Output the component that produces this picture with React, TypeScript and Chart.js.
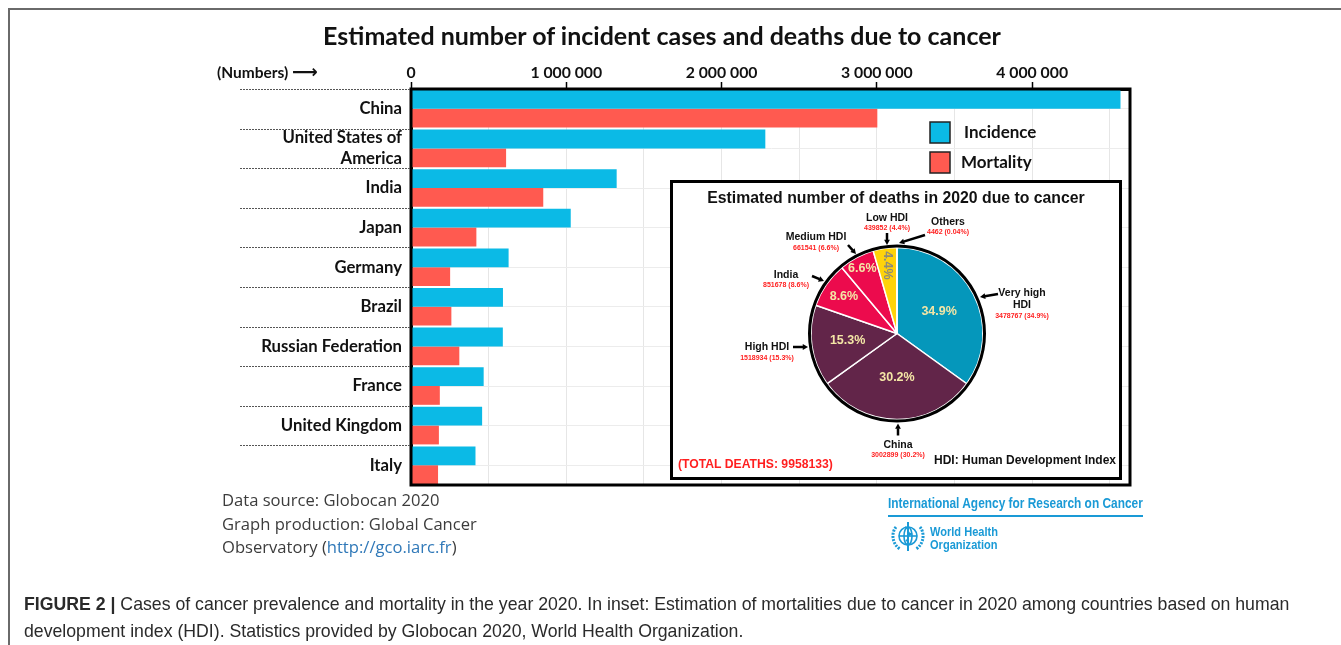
import React, { useEffect, useRef } from 'react';
import { Chart, registerables } from 'chart.js';

Chart.register(...registerables);

// ---------- DATA ----------
const countries = [
  'China',
  'United States of America',
  'India',
  'Japan',
  'Germany',
  'Brazil',
  'Russian Federation',
  'France',
  'United Kingdom',
  'Italy',
];
const incidence = [4568754, 2281658, 1324413, 1028658, 628519, 592212, 591371, 467965, 457960, 415269];
const mortality = [3002899, 612390, 851678, 420965, 251995, 259949, 311137, 185621, 179648, 174159];
const seriesNames = ['Incidence', 'Mortality'];
// x grid positions (labels only on whole millions)
const xGridValues = [0, 500000, 1000000, 1500000, 2000000, 2500000, 3000000, 3500000, 4000000, 4500000];
const xLabelledValues = [0, 1000000, 2000000, 3000000, 4000000];

const hdiGroups = ['Very high HDI', 'China', 'High HDI', 'India', 'Medium HDI', 'Low HDI', 'Others'];
const hdiDeaths = [3478767, 3002899, 1518934, 851678, 661541, 439852, 4462];
const totalDeathsLabel = '(TOTAL DEATHS: 9958133)';

// ---------- STYLE ----------
const INC = '#0BBAE6';
const MORT = '#FF5A50';
const pieColors = ['#0597BB', '#622549', '#622549', '#EC0B4D', '#EC0B4D', '#FFD30A', '#FFD30A'];

const fmtSpace = (v: number) => String(Math.round(v)).replace(/\B(?=(\d{3})+(?!\d))/g, ' ');
const isLabelled = (v: number) => xLabelledValues.some((t) => Math.abs(t - v) < 1);

const separatorPlugin = {
  id: 'separators',
  afterDraw(chart: any) {
    const { ctx, chartArea } = chart;
    const n = chart.data.labels.length;
    const h = (chartArea.bottom - chartArea.top) / n;
    ctx.save();
    ctx.strokeStyle = '#555';
    ctx.lineWidth = 1;
    ctx.setLineDash([2, 1]);
    for (let i = 0; i < n; i++) {
      const y = Math.round(chartArea.top + i * h) + 0.5;
      ctx.beginPath();
      ctx.moveTo(240, y);
      ctx.lineTo(chartArea.left, y);
      ctx.stroke();
    }
    ctx.restore();
  },
};

const framePlugin = {
  id: 'frame',
  afterDatasetsDraw(chart: any) {
    const { ctx, chartArea } = chart;
    ctx.save();
    ctx.strokeStyle = '#000';
    ctx.lineWidth = 3;
    ctx.strokeRect(chartArea.left, chartArea.top, chartArea.right - chartArea.left, chartArea.bottom - chartArea.top);
    ctx.restore();
  },
};

const legendPlugin = {
  id: 'customLegend',
  afterDraw(chart: any) {
    const { ctx, chartArea } = chart;
    ctx.save();
    chart.data.datasets.forEach((ds: any, i: number) => {
      const x = chartArea.left + 519;
      const y = chartArea.top + 33 + i * 30;
      ctx.fillStyle = ds.backgroundColor;
      ctx.fillRect(x, y, 20, 21);
      ctx.strokeStyle = '#222';
      ctx.lineWidth = 1.5;
      ctx.strokeRect(x, y, 20, 21);
      ctx.fillStyle = '#111';
      ctx.font = 'bold 17px Lato';
      ctx.textBaseline = 'middle';
      ctx.textAlign = 'left';
      ctx.fillText(ds.label, x + 34 - i * 3, y + 11);
    });
    ctx.restore();
  },
};

function BarChart() {
  const ref = useRef<HTMLCanvasElement>(null);
  useEffect(() => {
    const chart = new Chart(ref.current as HTMLCanvasElement, {
      type: 'bar',
      data: {
        labels: countries,
        datasets: [
          { label: seriesNames[0], data: incidence, backgroundColor: INC, borderWidth: 0 },
          { label: seriesNames[1], data: mortality, backgroundColor: MORT, borderWidth: 0 },
        ],
      },
      options: {
        indexAxis: 'y',
        responsive: false,
        animation: false,
        devicePixelRatio: 1,
        layout: { padding: { left: 0, top: 0, right: 211, bottom: 160 } },
        datasets: { bar: { categoryPercentage: 0.95, barPercentage: 1 } } as any,
        plugins: { legend: { display: false }, tooltip: { enabled: false } },
        scales: {
          x: {
            position: 'top',
            min: 0,
            max: 4630000,
            afterFit: (s: any) => { s.height = 89; },
            afterBuildTicks: (s: any) => { s.ticks = xGridValues.map((v) => ({ value: v })); },
            ticks: {
              autoSkip: false,
              maxRotation: 0,
              padding: 0,
              color: '#111',
              font: { family: 'Lato', weight: 'bold', size: 15.8 },
              callback: (v: any) => (isLabelled(Number(v)) ? fmtSpace(Number(v)) : ''),
            },
            grid: {
              color: (c: any) => (c.tick && Math.round(c.tick.value) === 0 ? 'rgba(0,0,0,0)' : '#e6e6e6'),
              tickColor: (c: any) => (c.tick && isLabelled(c.tick.value) ? '#000' : 'rgba(0,0,0,0)'),
              tickLength: 7,
              tickWidth: 1.5,
            },
            border: { display: true, color: '#000', width: 3 },
          } as any,
          y: {
            afterFit: (s: any) => { s.width = 411; },
            ticks: {
              autoSkip: false,
              padding: 9,
              color: '#111',
              font: { family: 'Lato', weight: 'bold', size: 16.7, lineHeight: 1.25 },
              callback: function (this: any, v: any) {
                const l = String(this.getLabelForValue(v));
                return l === 'United States of America' ? ['United States of', 'America'] : l;
              },
            },
            grid: { offset: false, color: '#ececec', drawTicks: false },
            border: { display: true, color: '#000', width: 3 },
          } as any,
        },
      },
      plugins: [separatorPlugin, framePlugin, legendPlugin],
    });
    return () => chart.destroy();
  }, []);
  return <canvas ref={ref} width={1341} height={645} style={{ position: 'absolute', left: 0, top: 0 }} />;
}

// label placement (offsets from pie centre) — layout only
const extLayout = [
  { name: ['Very high', 'HDI'], nx: 125, ny: -40.5, vy: -17.5, a: [101, -39.5, 83, -36.5] },
  { name: ['China'], nx: 1, ny: 111.5, vy: 121.5, a: [1, 102, 1, 90] },
  { name: ['High HDI'], nx: -130, ny: 13.5, vy: 24.5, a: [-104, 13.5, -89, 13.5] },
  { name: ['India'], nx: -111, ny: -58.5, vy: -48.5, a: [-85, -57.5, -73, -52.5] },
  { name: ['Medium HDI'], nx: -81, ny: -96.5, vy: -85.5, a: [-49, -88.5, -41, -79.5] },
  { name: ['Low HDI'], nx: -10, ny: -115.5, vy: -105.5, a: [-10, -100.5, -10, -88.5] },
  { name: ['Others'], nx: 51, ny: -111.5, vy: -101.5, a: [28, -98.5, 2, -90.5] },
];
const innerRadiusFactor = [0.55, 0.51, 0.58, 0.75, 0.86, 0.8, 0];

function drawArrow(ctx: CanvasRenderingContext2D, x1: number, y1: number, x2: number, y2: number) {
  const ang = Math.atan2(y2 - y1, x2 - x1);
  const hl = 6;
  ctx.beginPath();
  ctx.moveTo(x1, y1);
  ctx.lineTo(x2 - Math.cos(ang) * hl * 0.8, y2 - Math.sin(ang) * hl * 0.8);
  ctx.lineWidth = 2.5;
  ctx.strokeStyle = '#000';
  ctx.stroke();
  ctx.beginPath();
  ctx.moveTo(x2, y2);
  ctx.lineTo(x2 - Math.cos(ang - 0.5) * hl, y2 - Math.sin(ang - 0.5) * hl);
  ctx.lineTo(x2 - Math.cos(ang + 0.5) * hl, y2 - Math.sin(ang + 0.5) * hl);
  ctx.closePath();
  ctx.fillStyle = '#000';
  ctx.fill();
}

const pieLabelPlugin = {
  id: 'pieLabels',
  afterDatasetsDraw(chart: any) {
    const { ctx } = chart;
    const meta = chart.getDatasetMeta(0);
    const data: number[] = chart.data.datasets[0].data;
    const labels: string[] = chart.data.labels;
    const total = data.reduce((a, b) => a + b, 0);
    const a0 = meta.data[0];
    const cx = a0.x, cy = a0.y, R = a0.outerRadius;
    ctx.save();
    // outer ring
    ctx.beginPath();
    ctx.arc(cx, cy, R + 1.5, 0, Math.PI * 2);
    ctx.lineWidth = 3;
    ctx.strokeStyle = '#000';
    ctx.stroke();
    // inner percentages
    meta.data.forEach((arc: any, i: number) => {
      const pct = (data[i] / total) * 100;
      if (pct < 1) return;
      const mid = (arc.startAngle + arc.endAngle) / 2;
      const r = R * innerRadiusFactor[i];
      const x = cx + Math.cos(mid) * r;
      const y = cy + Math.sin(mid) * r;
      ctx.save();
      ctx.translate(x, y);
      ctx.font = 'bold 12.5px "Liberation Sans", Arial';
      ctx.textAlign = 'center';
      ctx.textBaseline = 'middle';
      if (pct < 5) {
        ctx.rotate(Math.PI / 2);
        ctx.fillStyle = '#8c8a7a';
      } else {
        ctx.fillStyle = '#F4E6A6';
      }
      ctx.fillText(pct.toFixed(1) + '%', 0, 0);
      ctx.restore();
    });
    // external labels
    labels.forEach((lab: string, i: number) => {
      const L = extLayout[i];
      const pct = (data[i] / total) * 100;
      ctx.textAlign = 'center';
      ctx.textBaseline = 'middle';
      ctx.fillStyle = '#111';
      ctx.font = 'bold 10.5px "Liberation Sans", Arial';
      L.name.forEach((t, k) => ctx.fillText(t, cx + L.nx, cy + L.ny + k * 12));
      ctx.fillStyle = '#FF1F1F';
      ctx.font = 'bold 7px "Liberation Sans", Arial';
      ctx.fillText(`${data[i]} (${pct < 0.1 ? pct.toFixed(2) : pct.toFixed(1)}%)`, cx + L.nx, cy + L.vy);
      drawArrow(ctx, cx + L.a[0], cy + L.a[1], cx + L.a[2], cy + L.a[3]);
    });
    ctx.restore();
  },
};

function PieChart() {
  const ref = useRef<HTMLCanvasElement>(null);
  useEffect(() => {
    const chart = new Chart(ref.current as HTMLCanvasElement, {
      type: 'pie',
      data: {
        labels: hdiGroups,
        datasets: [
          { data: hdiDeaths, backgroundColor: pieColors, borderColor: '#fff', borderWidth: 1.5 },
        ],
      },
      options: {
        responsive: false,
        animation: false,
        devicePixelRatio: 1,
        radius: 86,
        layout: { padding: { left: 136, right: 134, top: 62.5, bottom: 55.5 } },
        plugins: { legend: { display: false }, tooltip: { enabled: false } },
      } as any,
      plugins: [pieLabelPlugin],
    });
    return () => chart.destroy();
  }, []);
  return <canvas ref={ref} width={446} height={294} style={{ position: 'absolute', left: 0, top: 0 }} />;
}

function WhoEmblem() {
  return (
    <svg width="40" height="36" viewBox="0 0 40 36" style={{ position: 'absolute', left: 888, top: 519 }}>
      <g fill="none" stroke="#1a9ad6" strokeWidth="1.6">
        <circle cx="20" cy="17" r="9" />
        <ellipse cx="20" cy="17" rx="4" ry="9" />
        <line x1="11" y1="17" x2="29" y2="17" />
        <path d="M8 8 C3 14 4 25 12 30" strokeWidth="3" strokeDasharray="2 1.2" />
        <path d="M32 8 C37 14 36 25 28 30" strokeWidth="3" strokeDasharray="2 1.2" />
        <line x1="20" y1="3" x2="20" y2="32" strokeWidth="2" />
        <path d="M17 8 C23 10 17 13 23 15 C17 17 23 19 18 22" strokeWidth="1.6" />
      </g>
    </svg>
  );
}

export default function App() {
  const sans = '"Liberation Sans", Arial, sans-serif';
  return (
    <div style={{ position: 'absolute', left: 0, top: 0, width: 1341, height: 645, background: '#fff', overflow: 'hidden' }}>
      <div style={{ position: 'absolute', left: 8, top: 8, width: 1400, height: 700, borderTop: '2px solid #6a6a6a', borderLeft: '2px solid #6a6a6a', boxSizing: 'border-box' }} />
      <BarChart />
      <div style={{ position: 'absolute', left: 262, top: 19, width: 800, textAlign: 'center', fontFamily: 'Lato', fontWeight: 700, fontSize: 25, lineHeight: '32px', color: '#111' }}>
        Estimated number of incident cases and deaths due to cancer
      </div>
      <div style={{ position: 'absolute', left: 217, top: 62, fontFamily: 'Lato', fontWeight: 700, fontSize: 15.5, lineHeight: '20px', color: '#111', whiteSpace: 'nowrap' }}>
        (Numbers) <span style={{ fontFamily: 'DejaVu Sans', fontWeight: 700, fontSize: 18 }}>⟶</span>
      </div>
      <div style={{ position: 'absolute', left: 670, top: 180, width: 452, height: 300, border: '3px solid #000', boxSizing: 'border-box', background: '#fff' }}>
        <PieChart />
        <div style={{ position: 'absolute', left: 0, top: 6, width: 446, textAlign: 'center', fontFamily: sans, fontWeight: 700, fontSize: 15.8, color: '#111', whiteSpace: 'nowrap' }}>
          Estimated number of deaths in 2020 due to cancer
        </div>
        <div style={{ position: 'absolute', left: 5, top: 274, fontFamily: sans, fontWeight: 700, fontSize: 12.2, color: '#FF1F1F', whiteSpace: 'nowrap' }}>
          {totalDeathsLabel}
        </div>
        <div style={{ position: 'absolute', right: 3, top: 270, fontFamily: sans, fontWeight: 700, fontSize: 12, color: '#111', whiteSpace: 'nowrap' }}>
          HDI: Human Development Index
        </div>
      </div>
      <div style={{ position: 'absolute', left: 222, top: 488, fontFamily: '"Open Sans"', fontSize: 16.6, lineHeight: '23.5px', color: '#3c3c3c', whiteSpace: 'nowrap' }}>
        <div>Data source: Globocan 2020</div>
        <div>Graph production: Global Cancer</div>
        <div>Observatory (<span style={{ color: '#2f78b8' }}>http://gco.iarc.fr</span>)</div>
      </div>
      <div style={{ position: 'absolute', left: 888, top: 495, fontFamily: sans, fontWeight: 700, fontSize: 14, color: '#1a9ad6', whiteSpace: 'nowrap', transform: 'scaleX(0.85)', transformOrigin: 'left top', lineHeight: '17px' }}>
        International Agency for Research on Cancer
      </div>
      <div style={{ position: 'absolute', left: 888, top: 515, width: 255, height: 1.5, background: '#1a9ad6' }} />
      <WhoEmblem />
      <div style={{ position: 'absolute', left: 930, top: 525, fontFamily: sans, fontWeight: 700, fontSize: 13, lineHeight: '13px', color: '#1a9ad6', whiteSpace: 'nowrap', transform: 'scaleX(0.85)', transformOrigin: 'left top' }}>
        <div>World Health</div>
        <div>Organization</div>
      </div>
      <div style={{ position: 'absolute', left: 24, top: 591, width: 1310, fontFamily: sans, fontSize: 17.7, lineHeight: '27px', color: '#2a2a2a', whiteSpace: 'nowrap' }}>
        <b>FIGURE 2 |</b> Cases of cancer prevalence and mortality in the year 2020. In inset: Estimation of mortalities due to cancer in 2020 among countries based on human
        <br />
        development index (HDI). Statistics provided by Globocan 2020, World Health Organization.
      </div>
    </div>
  );
}
